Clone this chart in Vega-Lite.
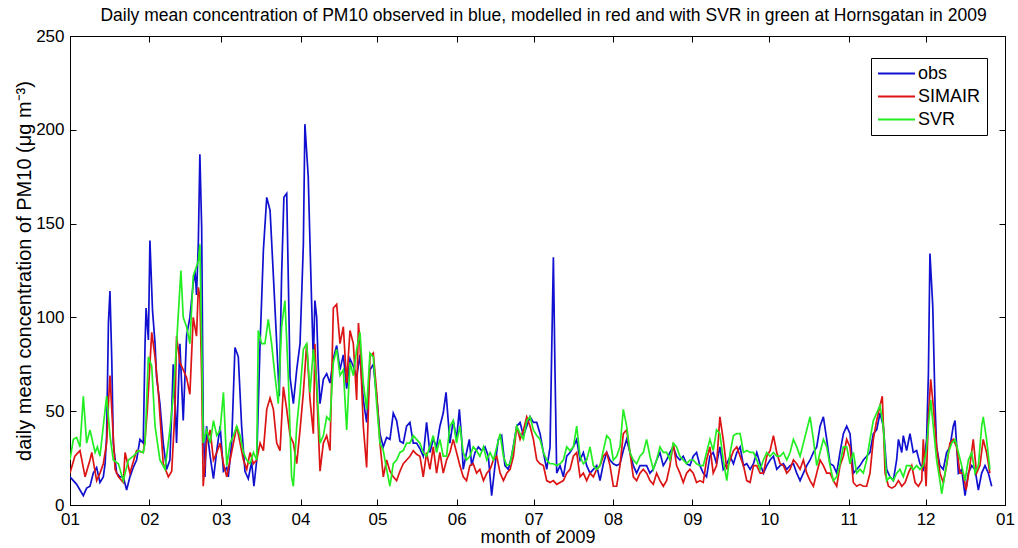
{
"$schema": "https://vega.github.io/schema/vega-lite/v6.json",
"width": 935, "height": 469,
"autosize": {"type": "none"},
"padding": {"left": 70, "top": 36, "right": 13, "bottom": 43},
"background": "white",
"config": {"view": {"stroke": "black", "strokeWidth": 1}, "font": "Liberation Sans"},
"title": {"text": "Daily mean concentration of PM10 observed in blue, modelled in red and with SVR in green at Hornsgatan in 2009", "fontSize": 17.5, "fontWeight": "normal", "font": "Liberation Sans", "color": "black", "anchor": "middle", "baseline": "bottom", "offset": -15, "dx": 6},
"datasets": {
"obs": [[0,15],[1.3,13],[2.6,11],[3.9,8],[5.2,5],[6.5,9],[7.8,10],[9.1,17],[10.4,20],[11.7,12],[13,15],[13.7,22],[14.3,37],[15,97],[15.6,114],[16.3,78],[16.9,33],[18.2,17],[19.5,15],[20.8,15],[22.1,8],[23.4,15],[24.7,20],[26,24],[27.3,35],[28.6,33],[29.3,86],[29.7,105],[30.6,88],[31.2,141],[32.2,104],[33.2,86],[33.8,68],[35.1,54],[36.4,33],[37.7,19],[39,24],[39.7,50],[40.3,75],[41,56],[41.6,33],[42.9,86],[44.2,45],[45.5,90],[46.8,100],[48.1,118],[48.8,125],[49.4,112],[50.1,140],[50.7,187],[51.4,148],[52,44],[52.7,15],[53.3,42],[54.7,26],[56,14],[57.3,29],[58.6,42],[59.9,18],[61.2,20],[61.8,15],[63.1,33],[64.4,84],[65.7,79],[67,42],[68.3,18],[69.6,14],[70.9,23],[71.8,10],[72.9,24],[74.2,86],[75.5,136],[76.8,164],[78.1,157],[79.4,122],[80.7,86],[81.7,58],[82.6,122],[83.5,164],[84.6,166],[85.2,122],[85.9,68],[87.2,54],[88.5,72],[89.8,86],[91.1,139],[91.7,203],[93,175],[93.7,139],[94.3,109],[95,77],[95.6,109],[96.3,100],[96.9,74],[97.6,54],[98.9,67],[100.2,70],[101.5,65],[102.8,78],[104.1,85],[105.4,72],[106.7,80],[108,62],[109.3,78],[110.6,74],[111.9,68],[113.2,80],[114.5,56],[115.8,44],[117.1,72],[118.4,75],[119.7,58],[121,38],[122.3,31],[123.6,36],[124.9,35],[126.2,49],[127.5,45],[128.8,34],[130.1,33],[131.4,42],[132.7,44],[134,33],[135.3,33],[136.6,30],[137.9,26],[139.2,44],[140.5,28],[141.8,35],[143.1,31],[144.4,42],[145.7,49],[146.8,60],[147.7,44],[148.3,33],[149.6,45],[150.9,35],[152,51],[152.9,35],[153.5,19],[154.8,28],[155.9,35],[156.8,21],[158.1,28],[159.4,31],[160.7,29],[162,31],[163.3,26],[164.6,5],[165.9,21],[167.2,35],[168.5,37],[169.8,21],[171.1,19],[172.4,26],[174.4,42],[175.7,44],[177,37],[178.3,42],[179.6,47],[180.9,44],[182.2,44],[183.5,38],[184.8,28],[186.1,19],[187.4,31],[188,79],[188.7,132],[189.3,74],[190,17],[191.3,21],[192.6,15],[193.9,26],[195.2,28],[196.5,31],[197.8,35],[199.1,24],[200.4,28],[201.7,21],[203,17],[204.3,19],[205.6,21],[206.9,13],[208.2,22],[209.5,28],[210.8,24],[212.1,22],[213.4,21],[214.7,22],[216,29],[217.3,35],[218.6,28],[219.9,21],[221.2,17],[222.5,21],[223.8,21],[225.1,21],[226.4,17],[227.7,19],[229,24],[230.3,28],[231.6,21],[232.9,24],[234.2,28],[235.5,31],[236.8,26],[238.1,24],[239.4,26],[240.7,22],[242,21],[243.3,26],[244.6,28],[245.9,21],[247.2,17],[248.5,15],[249.8,26],[251.1,28],[252.4,22],[253.7,31],[255,19],[256.4,22],[257.7,26],[259,22],[260.3,28],[261.6,31],[262.9,21],[264.2,22],[265.5,19],[266.8,22],[268.1,28],[269.4,22],[270.7,17],[272,21],[273.3,24],[274.6,26],[275.9,19],[277.2,21],[278.5,22],[279.8,19],[281.1,21],[282.4,22],[283.7,17],[285,13],[286.3,17],[287.6,21],[288.9,24],[290.2,28],[291.5,31],[292.8,42],[294.1,47],[295.4,35],[296.7,22],[298,21],[299.3,17],[300.6,28],[301.9,38],[303.2,42],[304.5,38],[305.8,17],[307.1,19],[308.4,21],[309.7,24],[311,26],[312.3,28],[313.6,38],[314.9,40],[316.2,49],[317.5,42],[318.8,19],[320.1,15],[321.4,13],[322.7,24],[323.4,35],[324.7,28],[325.3,37],[326.6,29],[327.9,38],[329.2,28],[330.5,29],[331.8,22],[333.1,19],[334.4,35],[335.1,70],[335.7,134],[336.8,106],[337.7,53],[338.3,31],[339.6,21],[340.9,19],[342.2,28],[343.5,31],[344.8,42],[345.5,45],[346.8,17],[348.1,19],[349.4,5],[350.7,17],[352,21],[353.3,19],[354.6,8],[355.9,17],[357.2,21],[358.5,17],[359.8,10]],
"sim": [[0,17],[1.9,26],[3.9,29],[5.9,15],[7.8,24],[8.5,28],[10.4,13],[11.7,17],[13,22],[14.3,33],[15,54],[15.6,69],[16.3,51],[17.6,19],[18.9,15],[20.8,12],[21.5,28],[23.4,17],[26,29],[28.6,28],[29.3,35],[30.2,51],[31.9,92],[33.2,79],[34.5,60],[36.4,22],[38.4,15],[39.7,18],[41,51],[41.6,90],[42.9,76],[44.2,72],[45.5,68],[46.8,59],[48.1,100],[49.4,90],[50.1,116],[50.7,111],[51.4,68],[52,10],[53.3,33],[54.7,40],[56,24],[57.3,28],[58.6,33],[59.9,22],[61.2,15],[62.5,24],[63.8,33],[65.1,42],[66.4,33],[67.7,24],[69,19],[70.3,28],[71.6,22],[72.9,24],[74.2,33],[75.5,29],[76.8,51],[78.1,57],[79.4,51],[80.7,33],[82,29],[83.3,63],[84.6,51],[85.9,37],[87.2,33],[88.5,22],[89.8,40],[91.1,60],[92.4,86],[93.7,56],[95,38],[95.6,86],[96.9,42],[97.6,18],[98.9,33],[100.2,37],[101.5,29],[102.8,105],[104.1,107],[105.4,86],[106.7,95],[108,65],[109.3,93],[110.6,86],[111.9,56],[112.6,97],[113.2,86],[114.5,42],[115.8,20],[117.1,79],[118.4,81],[119.7,60],[121,33],[122.3,15],[123.6,24],[124.9,18],[126.2,15],[127.5,13],[128.8,18],[130.1,22],[131.4,24],[132.7,26],[134,29],[135.3,27],[136.6,26],[137.9,15],[139.2,28],[140.5,19],[141.8,31],[143.1,17],[144.4,28],[145.7,17],[147,24],[148.3,28],[149.6,35],[150.9,28],[152.2,21],[153.5,15],[154.8,13],[156.1,21],[157.4,22],[158.7,17],[160,19],[161.4,13],[162.7,17],[164,19],[165.3,24],[166.6,26],[167.9,17],[169.2,13],[170.5,17],[171.8,19],[173.1,26],[174.4,42],[175.7,35],[177,40],[178.3,47],[179.6,42],[180.9,35],[182.2,24],[183.5,22],[184.8,21],[186.1,13],[187.4,12],[188.7,13],[190,11],[191.3,12],[192.6,13],[193.9,17],[195.2,19],[196.5,26],[197.8,28],[199.1,15],[200.4,17],[201.7,13],[203,17],[204.3,15],[205.6,19],[206.9,21],[208.2,26],[209.5,28],[210.8,21],[212.1,10],[213.4,10],[214.7,21],[216,38],[217.3,40],[218.6,28],[219.9,15],[221.2,13],[222.5,17],[223.8,19],[225.1,17],[226.4,13],[227.7,11],[229,17],[230.3,13],[231.6,10],[232.9,13],[234.2,21],[235.5,33],[236.8,21],[238.1,17],[239.4,12],[240.7,17],[242,19],[243.3,17],[244.6,12],[245.9,13],[247.2,12],[248.5,24],[249.8,31],[251.1,17],[252.4,21],[253.7,47],[255,35],[256.4,19],[257.7,24],[259,29],[260.3,31],[261.6,26],[262.9,21],[264.2,13],[265.5,12],[266.8,21],[268.1,21],[269.4,17],[270.7,17],[272,26],[273.3,29],[274.6,37],[275.9,28],[277.2,22],[278.5,21],[279.8,17],[281.1,19],[282.4,24],[283.7,22],[285,19],[286.3,24],[287.6,17],[288.9,13],[290.2,10],[291.5,17],[292.8,24],[294.1,21],[295.4,17],[296.7,17],[298,13],[299.3,10],[300.6,21],[301.9,26],[303.2,35],[304.5,31],[305.8,12],[307.1,10],[308.4,11],[309.7,10],[311,10],[312.3,17],[313.6,35],[314.9,45],[316.2,53],[317.1,58],[318.2,17],[319.5,10],[320.8,9],[322.1,10],[323.4,13],[324.7,10],[326,12],[327.3,17],[328.6,21],[329.9,12],[331.2,10],[332.5,13],[333.1,35],[334.2,10],[335.1,47],[336,67],[337,53],[338.3,31],[339.6,17],[340.9,12],[342.2,21],[343.5,33],[344.8,35],[346.1,31],[347.4,17],[348.7,17],[349.8,8],[351.3,21],[352.6,35],[353.9,17],[355.2,21],[356.5,35],[357.8,28],[359.1,17]],
"svr": [[0,24],[1.3,35],[2.6,36],[3.9,31],[5.2,58],[6.5,33],[7.8,40],[9.8,28],[10.7,31],[11.7,26],[13,42],[14.3,58],[15.6,37],[16.9,24],[18.9,22],[20.8,13],[22.8,24],[24.7,26],[26.7,29],[28.6,28],[29.3,33],[30.6,79],[31.9,74],[33.2,42],[35.1,24],[37.1,19],[39,40],[40.3,58],[41.6,86],[43.3,125],[44.2,100],[45.5,95],[46.8,86],[48.1,122],[50.1,130],[50.7,139],[51.4,86],[52,33],[53.3,40],[54.7,33],[56,45],[57.3,37],[58.6,40],[59.9,60],[61.2,21],[62.5,33],[63.8,37],[65.1,42],[66.4,37],[67.7,28],[69,24],[70.3,22],[71.6,28],[72.9,24],[73.5,93],[74.8,86],[76.1,86],[77.4,99],[78.7,86],[80,69],[81.3,54],[82.6,95],[83.9,109],[85.2,69],[86.5,15],[87.2,10],[88.5,42],[89.8,60],[91.1,83],[92.4,86],[93.7,60],[95,83],[96.3,65],[97.6,33],[98.9,37],[100.2,47],[101.5,45],[102.8,76],[104.1,83],[105.4,69],[106.7,72],[108,40],[109.3,76],[110.6,69],[111.9,83],[113.2,92],[114.5,65],[115.8,51],[117.1,81],[118.4,79],[119.7,54],[121,33],[122.3,29],[123.6,19],[124.9,10],[126.2,22],[127.5,24],[128.8,28],[130.1,29],[131.4,33],[132.7,33],[134,37],[135.3,35],[136.6,33],[137.9,28],[139.2,26],[140.5,31],[141.8,37],[143.1,28],[144.4,35],[145.7,26],[147,26],[148.3,42],[149.6,45],[150.9,33],[152.2,42],[153.5,28],[154.8,24],[156.1,26],[157.4,31],[158.7,29],[160,26],[161.4,31],[162.7,24],[164,28],[165.3,24],[166.6,31],[167.9,38],[169.2,26],[170.5,21],[171.8,22],[173.1,31],[174.4,42],[175.7,38],[177,35],[178.3,45],[179.6,47],[180.9,40],[182.2,37],[183.5,35],[184.8,28],[186.1,24],[187.4,22],[188.7,22],[190,21],[191.3,22],[192.6,24],[193.9,31],[195.2,29],[196.5,31],[197.8,42],[199.1,26],[200.4,22],[201.7,24],[203,31],[204.3,21],[205.6,19],[206.9,21],[208.2,29],[209.5,37],[210.8,35],[212.1,24],[213.4,26],[214.7,31],[216,51],[217.3,42],[218.6,28],[219.9,24],[221.2,22],[222.5,26],[223.8,28],[225.1,35],[226.4,26],[227.7,19],[229,24],[230.3,31],[231.6,28],[232.9,28],[234.2,24],[235.5,33],[236.8,31],[238.1,26],[239.4,24],[240.7,22],[242,24],[243.3,24],[244.6,22],[245.9,21],[247.2,21],[248.5,28],[249.8,35],[251.1,29],[252.4,40],[253.7,38],[255,24],[256.4,13],[257.7,28],[259,37],[260.3,38],[261.6,38],[262.9,28],[264.2,29],[265.5,28],[266.8,28],[268.1,24],[269.4,19],[270.7,24],[272,28],[273.3,26],[274.6,28],[275.9,26],[277.2,26],[278.5,28],[279.8,24],[281.1,28],[282.4,35],[283.7,31],[285,26],[286.3,33],[287.6,40],[288.9,47],[290.2,35],[291.5,21],[292.8,28],[294.1,35],[295.4,31],[296.7,21],[298,13],[299.3,15],[300.6,22],[301.9,31],[303.2,31],[304.5,22],[305.8,28],[307.1,17],[308.4,19],[309.7,17],[311,24],[312.3,35],[313.6,45],[314.9,49],[316.2,53],[317.5,42],[318.8,13],[320.1,15],[321.4,13],[322.7,17],[324,19],[325.3,15],[326.6,21],[327.9,21],[329.2,19],[330.5,21],[331.8,19],[333.1,21],[334.2,28],[335.1,42],[336,56],[337,42],[338.3,24],[339.6,13],[340.3,6],[341.6,17],[342.9,28],[344.2,33],[345.5,35],[346.8,28],[348.1,21],[349.4,13],[350.7,24],[352,28],[353.3,17],[354.6,21],[355.9,42],[356.5,47],[357.8,35],[359.1,19]]
},
"data": {"values": []},
"layer": [
{"data": {"name": "obs"}, "transform": [{"calculate": "datum[0]", "as": "d"}, {"calculate": "datum[1]", "as": "v"}, {"calculate": "'obs'", "as": "s"}],
 "mark": {"type": "line", "strokeWidth": 1.7, "clip": true},
 "encoding": {
  "x": {"field": "d", "type": "quantitative", "scale": {"domain": [0, 365], "nice": false, "zero": false},
    "axis": {"orient": "bottom", "values": [0,31,59,90,120,151,181,212,243,273,304,334,365], "labelExpr": "['01','02','03','04','05','06','07','08','09','10','11','12','01'][indexof([0,31,59,90,120,151,181,212,243,273,304,334,365], datum.value)]", "title": "month of 2009", "grid": false, "domainColor": "black", "tickColor": "black", "tickSize": -6, "labelPadding": 12, "labelFontSize": 17, "labelColor": "black", "labelFont": "Liberation Sans", "titleFont": "Liberation Sans", "titleFontSize": 18, "titleFontWeight": "normal", "titleColor": "black", "titlePadding": 1, "labelFlush": false}},
  "y": {"field": "v", "type": "quantitative", "scale": {"domain": [0, 250], "nice": false},
    "axis": {"orient": "left", "values": [0,50,100,150,200,250], "title": "daily mean concentration of PM10 (μg m⁻³)", "grid": false, "domainColor": "black", "tickColor": "black", "tickSize": -6, "labelPadding": 12, "labelFontSize": 17, "labelColor": "black", "labelFont": "Liberation Sans", "titleFont": "Liberation Sans", "titleFontSize": 20, "titleFontWeight": "normal", "titleColor": "black", "titlePadding": 1, "labelFlush": false}},
  "color": {"field": "s", "type": "nominal", "scale": {"domain": ["obs", "SIMAIR", "SVR"], "range": ["#1010d0", "#dc1414", "#22ee22"]},
    "legend": {"orient": "none", "legendX": 801, "legendY": 22, "title": null, "symbolType": "stroke", "symbolSize": 1369, "symbolStrokeWidth": 2, "labelFontSize": 18, "labelFont": "Liberation Sans", "labelColor": "black", "strokeColor": "black", "fillColor": "white", "padding": 6, "rowPadding": 4, "clipHeight": 19, "labelOffset": 2}}
 }},
{"data": {"name": "sim"}, "transform": [{"calculate": "datum[0]", "as": "d"}, {"calculate": "datum[1]", "as": "v"}, {"calculate": "'SIMAIR'", "as": "s"}],
 "mark": {"type": "line", "strokeWidth": 1.7, "clip": true},
 "encoding": {"x": {"field": "d", "type": "quantitative", "axis": null}, "y": {"field": "v", "type": "quantitative", "axis": null}, "color": {"field": "s", "type": "nominal"}}},
{"data": {"name": "svr"}, "transform": [{"calculate": "datum[0]", "as": "d"}, {"calculate": "datum[1]", "as": "v"}, {"calculate": "'SVR'", "as": "s"}],
 "mark": {"type": "line", "strokeWidth": 1.7, "clip": true},
 "encoding": {"x": {"field": "d", "type": "quantitative", "axis": null}, "y": {"field": "v", "type": "quantitative", "axis": null}, "color": {"field": "s", "type": "nominal"}}},
{"data": {"name": "obs"}, "transform": [{"calculate": "datum[0]", "as": "d"}, {"calculate": "datum[1]", "as": "v"}, {"filter": "datum.d == 0"}],
 "mark": {"type": "point", "opacity": 0},
 "encoding": {
  "x": {"field": "d", "type": "quantitative", "axis": {"orient": "top", "values": [0,31,59,90,120,151,181,212,243,273,304,334,365], "labels": false, "domain": false, "grid": false, "tickColor": "black", "tickSize": -6, "title": null}},
  "y": {"field": "v", "type": "quantitative", "axis": {"orient": "right", "values": [0,50,100,150,200,250], "labels": false, "domain": false, "grid": false, "tickColor": "black", "tickSize": -6, "title": null}}
 }}
],
"resolve": {"axis": {"x": "independent", "y": "independent"}}
}
